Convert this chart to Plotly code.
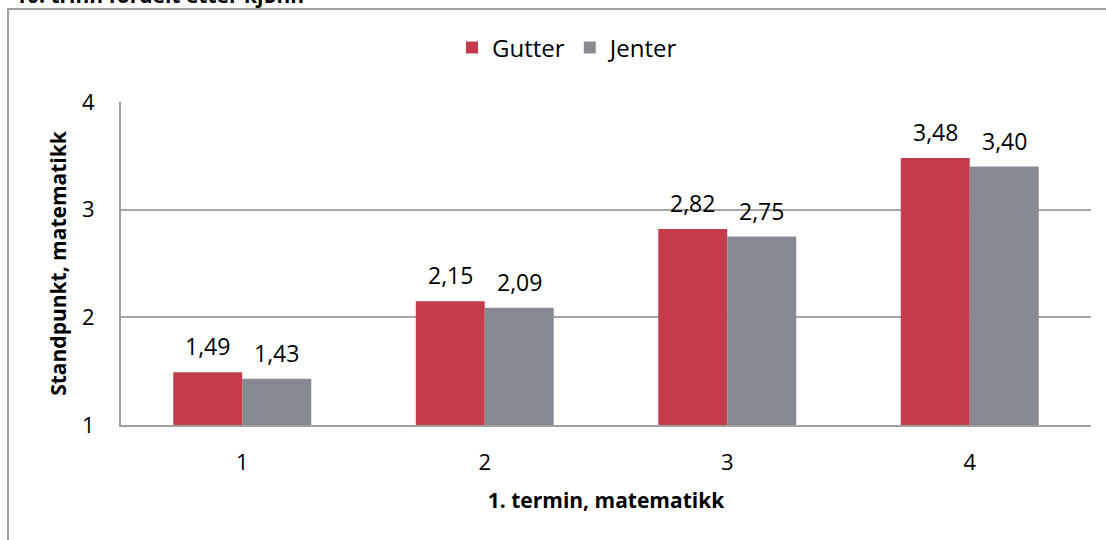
import plotly.graph_objects as go

categories = ["1", "2", "3", "4"]
gutter = [1.49, 2.15, 2.82, 3.48]
jenter = [1.43, 2.09, 2.75, 3.40]
y_ticks = [1, 2, 3, 4]

RED = "#C43C4C"
GREY = "#878A91"
FONT = "Open Sans"

W, H = 1106, 540
ML, MR, MT, MB = 121, 15, 102, 115
PW, PH = W - ML - MR, H - MT - MB

fig = go.Figure()
fig.add_trace(go.Bar(name="Gutter", x=categories, y=gutter, marker_color=RED,
                     marker_line_width=0))
fig.add_trace(go.Bar(name="Jenter", x=categories, y=jenter, marker_color=GREY,
                     marker_line_width=0))

# data labels
cat_w = PW / len(categories)
bargap = 0.431
bar_w = cat_w * (1 - bargap) / 2
ann = []
for series, sign in ((gutter, -1), (jenter, 1)):
    for i, v in enumerate(series):
        ann.append(dict(x=i, y=v, xref="x", yref="y", text=f"{v:.2f}".replace(".", ","),
                        showarrow=False, xshift=sign * bar_w / 2, yshift=26,
                        yanchor="middle", font=dict(family=FONT, size=23, color="#000")))

# clipped title at top
ann.append(dict(text="<b>10. trinn fordelt etter kjønn</b>", xref="paper", yref="paper",
                x=(13 - ML) / PW, y=1 + (MT - 11) / PH, xanchor="left", yanchor="bottom",
                showarrow=False, font=dict(family=FONT, size=21, color="#000")))

fig.update_layout(
    width=W, height=H,
    margin=dict(l=ML, r=MR, t=MT, b=MB, autoexpand=False),
    paper_bgcolor="white", plot_bgcolor="white",
    barmode="group", bargap=bargap, bargroupgap=0,
    separators=", ",
    font=dict(family=FONT, size=22, color="#000"),
    legend=dict(orientation="h", x=0.5 - 38 / PW, xanchor="center", y=1 + (MT - 48) / PH,
                yanchor="middle", font=dict(family=FONT, size=24),
                itemwidth=30, tracegroupgap=0),
    annotations=ann,
    shapes=[dict(type="rect", xref="paper", yref="paper",
                 x0=(8 - ML) / PW, x1=1.2, y0=-0.6, y1=1 + (MT - 9) / PH,
                 line=dict(color="#A0A0A0", width=2), fillcolor="rgba(0,0,0,0)",
                 layer="below")],
    xaxis=dict(type="category", showgrid=False, showline=True, linecolor="#A0A0A0",
               linewidth=2, ticks="", ticklabelstandoff=17,
               tickfont=dict(family=FONT, size=22),
               title=dict(text="<b>1. termin, matematikk</b>", standoff=18,
                          font=dict(family=FONT, size=21))),
    yaxis=dict(range=[1, 4], tickvals=y_ticks, showgrid=True, gridcolor="#A6A6A6",
               gridwidth=1.5, showline=True, linecolor="#A0A0A0", linewidth=2,
               ticks="", ticklabelstandoff=20, zeroline=False,
               tickfont=dict(family=FONT, size=22),
               title=dict(text="<b>Standpunkt, matematikk</b>", standoff=10,
                          font=dict(family=FONT, size=21))),
)

fig.write_html("out.html", config={"displayModeBar": False},
               post_script="document.body.style.margin='0';")
